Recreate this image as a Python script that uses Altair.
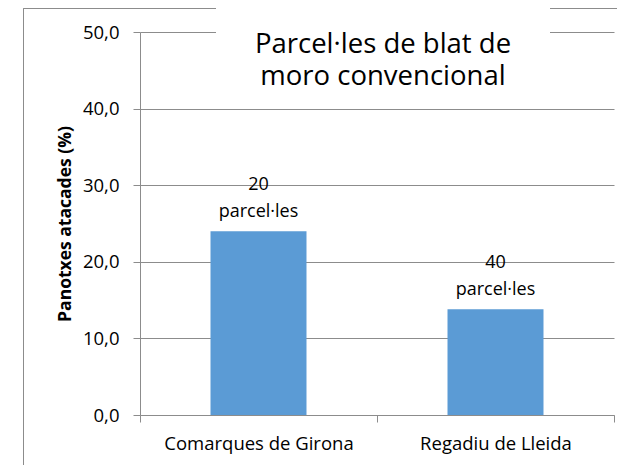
import altair as alt
import pandas as pd

regions = ["Comarques de Girona", "Regadiu de Lleida"]
pct = [24.0, 13.8]
parcels = [20, 40]
title_lines = ["Parcel·les de blat de", "moro convencional"]
y_title = "Panotxes atacades (%)"

df = pd.DataFrame({
    "region": regions,
    "pct": pct,
    "label": [f"{n}\nparcel·les" for n in parcels],
})

FONT = "Open Sans"
GRID = "#8c8c8c"
W, H = 474, 383

x_enc = alt.X("region:N", sort=regions, title=None,
              scale=alt.Scale(paddingInner=0, paddingOuter=0),
              axis=alt.Axis(labelAngle=0, tickBand="extent", tickSize=7,
                            tickColor=GRID, domainColor=GRID, labelPadding=12,
                            labelLimit=0,
                            labelFontSize=18.5, labelFont=FONT, labelColor="#000"))
y_enc = alt.Y("pct:Q", title=y_title,
              scale=alt.Scale(domain=[0, 50]),
              axis=alt.Axis(values=[0, 10, 20, 30, 40, 50],
                            labelExpr="replace(format(datum.value, '.1f'), '.', ',')",
                            tickSize=7, tickColor=GRID, domainColor=GRID,
                            gridColor=GRID, labelPadding=14,
                            labelFontSize=18.5, labelFont=FONT, labelColor="#000",
                            titleFont=FONT, titleFontSize=17.5, titleFontWeight="bold",
                            titleColor="#000", titlePadding=8))

bars = alt.Chart(df).mark_bar(color="#5B9BD5", width=alt.RelativeBandSize(0.405)).encode(
    x=x_enc, y=y_enc)

labels = alt.Chart(df).mark_text(font=FONT, fontSize=18, baseline="bottom",
                                 lineHeight=27, dy=-37, color="#000",
                                 lineBreak="\n").encode(
    x=alt.X("region:N", sort=regions), y="pct:Q", text="label:N")

frame = alt.Chart(df).mark_rule(color=GRID, strokeWidth=1, clip=False).encode(
    x=alt.value(-116.5), y=alt.value(-23.5), y2=alt.value(H + 60))
frame_top = alt.Chart(df).mark_rule(color=GRID, strokeWidth=1, clip=False).encode(
    x=alt.value(-116.5), x2=alt.value(W + 20), y=alt.value(-23.5))

title_bg = alt.Chart(df).mark_rect(color="white", clip=False).encode(
    x=alt.value(76), x2=alt.value(410), y=alt.value(-30), y2=alt.value(65))
title_txt = alt.Chart(pd.DataFrame({"t": ["\n".join(title_lines)]})).mark_text(
    font=FONT, fontSize=27.5, lineHeight=32, baseline="middle", align="center",
    color="#000", clip=False, lineBreak="\n").encode(
    x=alt.value(243), y=alt.value(13), text="t:N")

chart = alt.layer(frame, frame_top, bars, labels, title_bg, title_txt).properties(
    width=W, height=H,
    autosize=alt.AutoSizeParams(type="none"),
    padding={"left": 132, "top": 24, "right": 3, "bottom": 50},
).configure_view(stroke=None).configure_axis(grid=False).configure_axisY(grid=True)

chart.save("out.html", embed_options={"renderer": "svg", "actions": False})
